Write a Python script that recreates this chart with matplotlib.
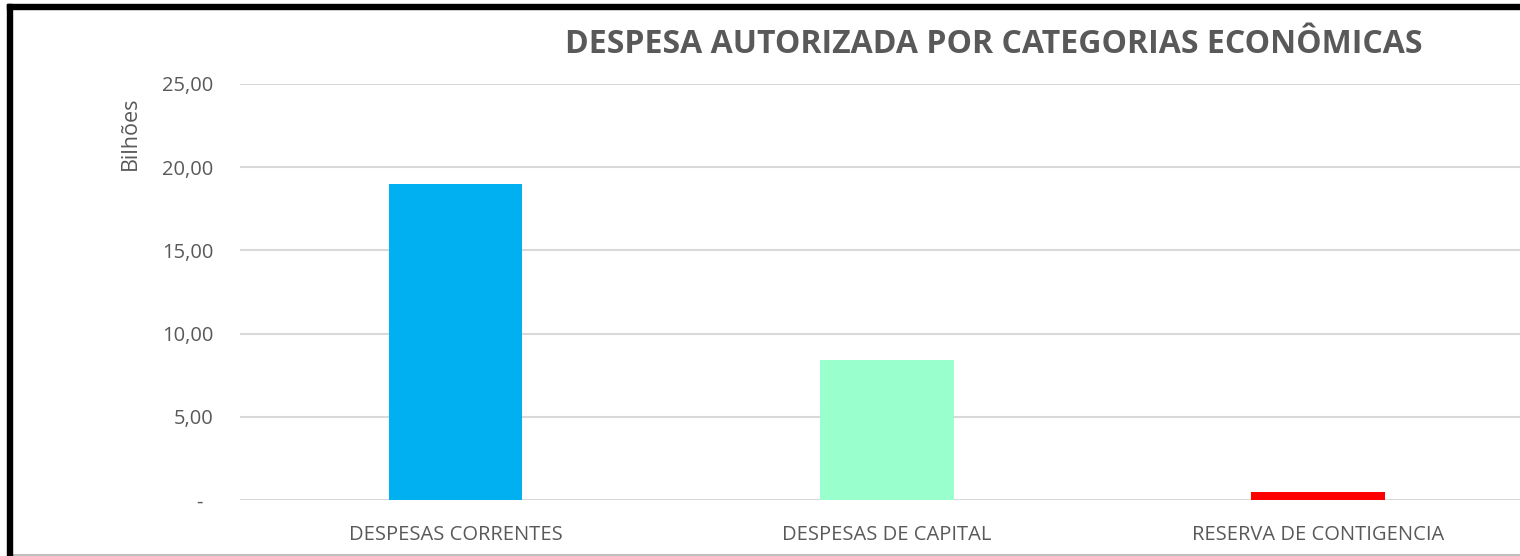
import matplotlib
matplotlib.use('Agg')
from matplotlib import pyplot as plt
from matplotlib.ticker import FuncFormatter
from matplotlib.patches import Rectangle
from matplotlib.lines import Line2D

plt.rcParams['font.family'] = ['Open Sans', 'DejaVu Sans']

categorias = ['DESPESAS CORRENTES', 'DESPESAS DE CAPITAL', 'RESERVA DE CONTIGENCIA']
valores = [19.0, 8.4, 0.5]
cores = ['#00B0F0', '#99FFCC', '#FF0000']
y_ticks = [0, 5, 10, 15, 20, 25]

fig = plt.figure(figsize=(15.2, 5.56), dpi=100)
ax = fig.add_axes([240 / 1520, 56 / 556, 1293.5 / 1520, 416 / 556])

x = range(len(categorias))
ax.bar(x, valores, width=0.31, color=cores, zorder=3)

ax.set_xlim(-0.5, 2.5)
ax.set_ylim(0, 25)
ax.set_yticks(y_ticks)

def fmt(v, pos):
    if v == 0:
        return '-  '
    return f'{v:.2f}'.replace('.', ',')

ax.yaxis.set_major_formatter(FuncFormatter(fmt))
ax.set_xticks(list(x))
ax.set_xticklabels(categorias)
ax.tick_params(axis='y', length=0, colors='#595959', labelsize=14.5, pad=19)
ax.tick_params(axis='x', length=0, colors='#595959', labelsize=14.5, pad=18)
ax.grid(axis='y', color='#d9d9d9', linewidth=1.5, zorder=0)
for s in ax.spines.values():
    s.set_visible(False)

fig.text(994 / 1520, 1 - 45 / 556, 'DESPESA AUTORIZADA POR CATEGORIAS ECONÔMICAS',
         ha='center', va='center', fontsize=23, fontweight='bold', color='#595959')
fig.text(130 / 1520, 1 - 133 / 556, 'Bilhões', rotation=90, ha='center', va='center',
         fontsize=15.5, color='#595959')

# moldura
fig.patches.append(Rectangle((7 / 1520, 0), 5 / 1520, 1 - 4 / 556,
                             transform=fig.transFigure, color='black', zorder=10))
fig.patches.append(Rectangle((7 / 1520, 1 - 9 / 556), 1 - 7 / 1520, 5 / 556,
                             transform=fig.transFigure, color='black', zorder=10))
fig.lines.append(Line2D([12 / 1520, 1], [1.5 / 556, 1.5 / 556],
                        transform=fig.transFigure, color='#bfbfbf', linewidth=1.5))

fig.savefig('out.png', dpi=100)
